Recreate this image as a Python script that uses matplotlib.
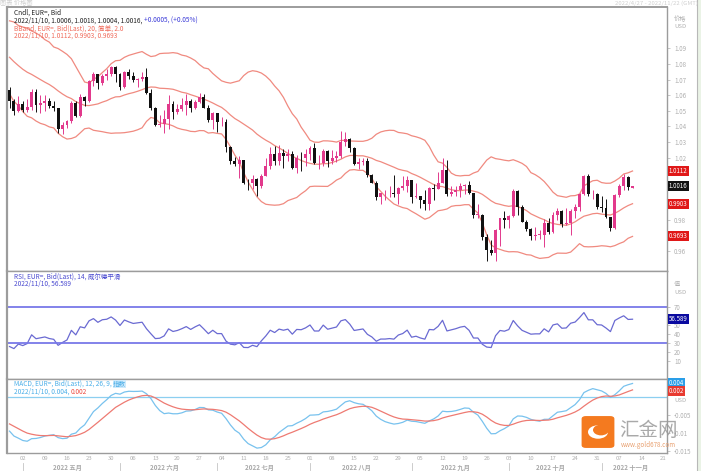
import numpy as np
import pandas as pd
import matplotlib
matplotlib.use('Agg')
import matplotlib.pyplot as plt
import matplotlib.transforms as mtrans
from matplotlib.patches import Rectangle, FancyBboxPatch, Circle

plt.rcParams['font.family'] = ['Noto Sans CJK SC', 'DejaVu Sans']

# EUR= daily closes, Feb-Apr 2022 (warm-up for the indicators)
close_feb = [1.1270, 1.1305, 1.1440, 1.1455, 1.1440, 1.1415, 1.1420, 1.1425, 1.1350, 1.1305,
             1.1360, 1.1370, 1.1360, 1.1320, 1.1310, 1.1330, 1.1310, 1.1190, 1.1270, 1.1220]
close_mar = [1.1126, 1.1119, 1.1063, 1.0929, 1.0855, 1.0905, 1.1075, 1.0985, 1.0912, 1.0942,
             1.0955, 1.1036, 1.1094, 1.1050, 1.1015, 1.1030, 1.1005, 1.0995, 1.0983, 1.0985,
             1.1087, 1.1157, 1.1067]
close_apr = [1.1046, 1.0972, 1.0905, 1.0900, 1.0880, 1.0876, 1.0890, 1.0830, 1.0890, 1.0825,
             1.0810, 1.0780, 1.0790, 1.0855, 1.0835, 1.0795, 1.0715, 1.0635, 1.0560, 1.0500,
             1.0545]
high_apr = [1.0650, 1.0575, 1.0595]   # Apr 27-29 (first visible bars)
low_apr = [1.0515, 1.0470, 1.0495]

close_may = [1.0505, 1.0525, 1.0620, 1.0540, 1.0550, 1.0560, 1.0530, 1.0515, 1.0380, 1.0410,
             1.0435, 1.0550, 1.0465, 1.0585, 1.0565, 1.0690, 1.0735, 1.0675, 1.0725, 1.0735,
             1.0780, 1.0735]
high_may = [1.0565, 1.0575, 1.0640, 1.0640, 1.0600, 1.0600, 1.0580, 1.0565, 1.0515, 1.0425,
            1.0440, 1.0565, 1.0565, 1.0605, 1.0595, 1.0700, 1.0750, 1.0735, 1.0735, 1.0765,
            1.0785, 1.0785]
low_may = [1.0490, 1.0490, 1.0505, 1.0490, 1.0485, 1.0500, 1.0520, 1.0500, 1.0355, 1.0350,
           1.0390, 1.0420, 1.0460, 1.0460, 1.0530, 1.0555, 1.0660, 1.0640, 1.0665, 1.0700,
           1.0720, 1.0685]

close_jun = [1.0650, 1.0750, 1.0720, 1.0695, 1.0705, 1.0715, 1.0615, 1.0520, 1.0410, 1.0415,
             1.0445, 1.0545, 1.0495, 1.0510, 1.0535, 1.0565, 1.0520, 1.0555, 1.0585, 1.0520,
             1.0440, 1.0485]
high_jun = [1.0740, 1.0755, 1.0765, 1.0750, 1.0710, 1.0750, 1.0775, 1.0640, 1.0525, 1.0475,
            1.0505, 1.0600, 1.0560, 1.0545, 1.0580, 1.0605, 1.0575, 1.0570, 1.0615, 1.0605,
            1.0535, 1.0490]
low_jun = [1.0630, 1.0645, 1.0705, 1.0685, 1.0655, 1.0690, 1.0610, 1.0505, 1.0400, 1.0395,
           1.0360, 1.0380, 1.0445, 1.0480, 1.0500, 1.0470, 1.0495, 1.0510, 1.0550, 1.0515,
           1.0430, 1.0385]

close_jul = [1.0425, 1.0425, 1.0265, 1.0180, 1.0160, 1.0185, 1.0040, 1.0035, 1.0060, 1.0020,
             1.0085, 1.0145, 1.0225, 1.0180, 1.0230, 1.0210, 1.0225, 1.0135, 1.0200, 1.0195,
             1.0220]
high_jul = [1.0485, 1.0460, 1.0445, 1.0275, 1.0205, 1.0210, 1.0165, 1.0060, 1.0090, 1.0070,
            1.0095, 1.0200, 1.0270, 1.0275, 1.0280, 1.0255, 1.0255, 1.0245, 1.0215, 1.0235,
            1.0255]
low_jul = [1.0365, 1.0405, 1.0235, 1.0160, 1.0145, 1.0070, 1.0030, 0.9995, 0.9998, 0.9952,
           1.0005, 1.0080, 1.0125, 1.0155, 1.0155, 1.0130, 1.0180, 1.0125, 1.0100, 1.0115,
           1.0145]

close_aug = [1.0260, 1.0165, 1.0165, 1.0245, 1.0180, 1.0195, 1.0210, 1.0300, 1.0320, 1.0260,
             1.0160, 1.0170, 1.0180, 1.0090, 1.0040, 0.9945, 0.9970, 0.9970, 0.9975, 0.9965,
             1.0005, 1.0020, 1.0055]
high_aug = [1.0275, 1.0295, 1.0215, 1.0255, 1.0250, 1.0250, 1.0245, 1.0370, 1.0365, 1.0325,
            1.0270, 1.0200, 1.0200, 1.0200, 1.0095, 1.0050, 0.9975, 0.9990, 1.0015, 1.0090,
            1.0010, 1.0080, 1.0080]
low_aug = [1.0185, 1.0160, 1.0125, 1.0145, 1.0140, 1.0160, 1.0170, 1.0200, 1.0275, 1.0235,
           1.0150, 1.0125, 1.0150, 1.0075, 1.0035, 0.9925, 0.9900, 0.9930, 0.9945, 0.9950,
           0.9900, 0.9990, 0.9980]

close_sep = [0.9945, 0.9955, 0.9925, 0.9905, 1.0005, 1.0000, 1.0040, 1.0120, 0.9965, 0.9980,
             0.9995, 1.0015, 1.0025, 0.9970, 0.9835, 0.9835, 0.9690, 0.9605, 0.9590, 0.9735,
             0.9815, 0.9800]
high_sep = [1.0055, 1.0035, 0.9945, 0.9990, 1.0010, 1.0030, 1.0110, 1.0198, 1.0185, 1.0020,
            1.0015, 1.0040, 1.0030, 1.0050, 0.9975, 0.9905, 0.9840, 0.9710, 0.9670, 0.9740,
            0.9815, 0.9855]
low_sep = [0.9910, 0.9940, 0.9875, 0.9865, 0.9865, 0.9930, 1.0000, 1.0035, 0.9955, 0.9955,
           0.9955, 0.9945, 0.9965, 0.9965, 0.9810, 0.9810, 0.9670, 0.9535, 0.9575, 0.9535,
           0.9635, 0.9750]

close_oct = [0.9825, 0.9985, 0.9885, 0.9790, 0.9745, 0.9700, 0.9705, 0.9705, 0.9780, 0.9720,
             0.9835, 0.9855, 0.9775, 0.9780, 0.9860, 0.9880, 0.9965, 1.0080, 0.9965, 0.9965,
             0.9880]
high_oct = [0.9830, 0.9998, 0.9995, 0.9895, 0.9800, 0.9750, 0.9755, 0.9735, 0.9805, 0.9810,
            0.9850, 0.9875, 0.9865, 0.9875, 0.9870, 0.9905, 0.9975, 1.0090, 1.0095, 0.9990,
            0.9975]
low_oct = [0.9750, 0.9820, 0.9835, 0.9785, 0.9730, 0.9670, 0.9670, 0.9680, 0.9630, 0.9710,
           0.9715, 0.9800, 0.9755, 0.9765, 0.9705, 0.9810, 0.9855, 0.9960, 0.9955, 0.9935,
           0.9870]

close_nov = [0.9875, 0.9820, 0.9750, 0.9960, 1.0020, 1.0075, 1.0011, 1.0016]
high_nov = [0.9955, 0.9935, 0.9820, 0.9965, 1.0030, 1.0095, 1.0080, 1.0018]
low_nov = [0.9850, 0.9810, 0.9730, 0.9745, 0.9950, 0.9990, 0.9990, 1.0004]
last_open = 1.0006

month_names = ['2022 五月', '2022 六月', '2022 七月', '2022 八月', '2022 九月', '2022 十月', '2022 十一月']

closes = pd.Series(close_feb + close_mar + close_apr + close_may + close_jun + close_jul +
                   close_aug + close_sep + close_oct + close_nov,
                   index=pd.bdate_range('2022-02-01', '2022-11-10'))

# indicators
mid = closes.rolling(20).mean()
sd = closes.rolling(20).std(ddof=0)
upper = mid + 2 * sd
lower = mid - 2 * sd
diff = closes.diff()
gain = diff.clip(lower=0).ewm(alpha=1 / 14, adjust=False).mean()
loss = (-diff.clip(upper=0)).ewm(alpha=1 / 14, adjust=False).mean()
rsi = 100 - 100 / (1 + gain / loss)
macd = closes.ewm(span=12, adjust=False).mean() - closes.ewm(span=26, adjust=False).mean()
signal = macd.ewm(span=9, adjust=False).mean()

start = pd.Timestamp('2022-04-27')
vis = closes.index >= start
dates = closes.index[vis]
c = closes[vis].values
o = closes.shift(1)[vis].values
o[-1] = last_open
h = np.array(high_apr + high_may + high_jun + high_jul + high_aug + high_sep + high_oct + high_nov)
l = np.array(low_apr + low_may + low_jun + low_jul + low_aug + low_sep + low_oct + low_nov)
h = np.maximum(h, np.maximum(o, c))
l = np.minimum(l, np.minimum(o, c))
n = len(c)
x = np.arange(n)

W, H = 701, 471
fig = plt.figure(figsize=(W / 100, H / 100), dpi=100)


def rect(x0, y0, x1, y1):
    return [x0 / W, 1 - y1 / H, (x1 - x0) / W, (y1 - y0) / H]


def ftext(px, py, s, **kw):
    return fig.text(px / W, 1 - py / H, s, va='center', **kw)


def chain(prev, s, **kw):
    # next piece of text on the same line, right after the previous one
    return plt.annotate(s, xy=(1, 0), xycoords=prev, va='bottom', ha='left',
                        annotation_clip=False, **kw)


ax_p = fig.add_axes(rect(7, 7, 667, 271))
ax_r = fig.add_axes(rect(7, 271, 667, 379))
ax_m = fig.add_axes(rect(7, 379, 667, 453))

up_col, dn_col = '#e2398c', '#111111'
x_lo, x_hi = -0.57, 148.8

# candles
cols = np.where(c >= o, up_col, dn_col)
ax_p.vlines(x, l, h, colors=cols, lw=0.7, zorder=3)
body = np.maximum(np.abs(c - o), 0.0003)
ax_p.bar(x, body, bottom=np.minimum(o, c), width=0.66, color=cols, zorder=4)
bb_col = '#f08a80'
ax_p.plot(x, upper[vis].values, color=bb_col, lw=0.9)
ax_p.plot(x, mid[vis].values, color=bb_col, lw=0.9)
ax_p.plot(x, lower[vis].values, color=bb_col, lw=0.9)
ax_p.set_ylim(0.9473, 1.1165)
ax_p.set_yticks([0.96, 0.98, 1.02, 1.03, 1.04, 1.05, 1.06, 1.07, 1.08, 1.09])

# RSI
rsi_col = '#6a6ad2'
ax_r.plot(x, rsi[vis].values, color=rsi_col, lw=0.9)
ax_r.axhline(70, color='#7878e8', lw=1.3)
ax_r.axhline(30, color='#7878e8', lw=1.3)
ax_r.set_ylim(-10, 110)
ax_r.set_yticks([10, 20, 30, 40, 50, 70])

# MACD
macd_col, sig_col = '#78c2ee', '#ee7a72'
ax_m.axhline(0, color='#8ccff0', lw=0.9)
ax_m.plot(x, macd[vis].values, color=macd_col, lw=0.9)
ax_m.plot(x, signal[vis].values, color=sig_col, lw=0.9)
ax_m.set_ylim(-0.0157, 0.0052)
ax_m.set_yticks([-0.015, -0.01, -0.005])
ax_m.set_yticklabels(['-0.015', '-0.01', '-0.005'])

for ax in (ax_p, ax_r, ax_m):
    ax.set_xlim(x_lo, x_hi)
    ax.yaxis.tick_right()
    ax.tick_params(axis='y', labelsize=4.5, colors='#b0b0b0', length=2, pad=3, width=0.5)
    for sp in ax.spines.values():
        sp.set_color('#9c9c9c')
        sp.set_linewidth(1.0)
    ax.spines['left'].set_linewidth(1.6)
ax_p.spines['top'].set_linewidth(1.4)
ax_p.set_xticks([])
ax_r.set_xticks([])

# x axis: Mondays and month separators
mondays = [i for i, d in enumerate(dates) if d.weekday() == 0]
extra = pd.bdate_range(dates[-1] + pd.Timedelta(days=1), periods=8)
xt = [x[i] for i in mondays] + [n + k for k, d in enumerate(extra) if d.weekday() == 0]
xl = [dates[i].strftime('%d') for i in mondays] + [d.strftime('%d') for d in extra if d.weekday() == 0]
ax_m.set_xticks(xt)
ax_m.set_xticklabels(xl)
ax_m.tick_params(axis='x', labelsize=4.3, colors='#b0b0b0', length=0, pad=2)

blend = mtrans.blended_transform_factory(ax_m.transData, ax_m.transAxes)
firsts = [i for i in range(n) if i == 0 or dates[i].month != dates[i - 1].month][1:]
bounds = firsts + [n + 7]
for k, i in enumerate(firsts):
    ax_m.plot([i, i], [-0.13, -0.23], color='#c4c4c4', lw=0.6, transform=blend, clip_on=False)
    ax_m.text((i + bounds[k + 1]) / 2 - 1, -0.19, month_names[k], transform=blend,
              fontsize=4.5, color='#a8a8a8', ha='center', va='center', fontweight='bold')

# headers
fs = 4.7
dark, blue, red = '#222222', '#3a3ad8', '#f06a5a'
rsi_txt, macd_txt = '#4a4ad0', '#4aaee8'
ftext(14, 13, 'Cndl, EUR=, Bid', fontsize=fs, color=dark)
t = ftext(14, 21, '2022/11/10, 1.0006, 1.0018, 1.0004, 1.0016, ', fontsize=fs, color=dark)
chain(t, '+0.0005, (+0.05%)', fontsize=fs, color=blue)
ftext(14, 29, 'BBand, EUR=, Bid(Last), 20, 简单, 2.0', fontsize=fs, color=red)
ftext(14, 36, '2022/11/10, 1.0112, 0.9903, 0.9693', fontsize=fs, color=red)
ftext(14, 277, 'RSI, EUR=, Bid(Last), 14, 威尔德平滑', fontsize=fs, color=rsi_txt)
ftext(14, 284, '2022/11/10, 56.589', fontsize=fs, color=rsi_txt)
t = ftext(14, 384, 'MACD, EUR=, Bid(Last), 12, 26, 9, ', fontsize=fs, color=macd_txt)
chain(t, '指数', fontsize=fs, color=macd_txt,
      bbox=dict(boxstyle='square,pad=0.05', fc='#cfeafb', ec='none'))
t = ftext(14, 392, '2022/11/10, 0.004, ', fontsize=fs, color=macd_txt)
chain(t, '0.002', fontsize=fs, color='#ee4a40')

ftext(0, 3, '图表 价格图', fontsize=4.5, color='#d0d0d0')
ftext(615, 3, '2022/4/27 - 2022/11/22 (GMT)', fontsize=4.3, color='#d0d0d0')
ftext(674, 19, '价格', fontsize=4.5, color='#b0b0b0')
ftext(674, 27, 'USD', fontsize=4.3, color='#b0b0b0')
ftext(674, 284, '值', fontsize=4.5, color='#b0b0b0')
ftext(674, 292, 'USD', fontsize=4.3, color='#b0b0b0')
ftext(674, 401, 'USD', fontsize=4.3, color='#b0b0b0')


# value boxes on the right axis
def value_box(ax, val, s, fc):
    tr = mtrans.blended_transform_factory(ax.transAxes, ax.transData)
    ax.text(1.003, val, s, transform=tr, fontsize=4.4, color='white', va='center', ha='left',
            clip_on=False, zorder=10,
            bbox=dict(boxstyle='square,pad=0.15', fc=fc, ec='none'))


value_box(ax_p, upper.iloc[-1], '1.0112', '#e01818')
value_box(ax_p, c[-1], '1.0016', '#111111')
value_box(ax_p, mid.iloc[-1], '0.9903', '#e01818')
value_box(ax_p, lower.iloc[-1], '0.9693', '#e01818')
value_box(ax_r, rsi.iloc[-1], '56.589', '#0a0aa0')
value_box(ax_m, macd.iloc[-1] + 0.0002, '0.004', '#2a9ee8')
value_box(ax_m, signal.iloc[-1] - 0.0002, '0.002', '#e83a30')

# right edge of the page
fig.patches.append(Rectangle((697 / W, 0), 4 / W, 1, transform=fig.transFigure,
                             fc='#eaf3e6', ec='none'))
fig.lines.append(plt.Line2D([697 / W, 697 / W], [0, 1], transform=fig.transFigure,
                            color='#b8b8b8', lw=0.8))

# watermark logo
fig.patches.append(FancyBboxPatch((583 / W, 1 - 447 / H), 30 / W, 30 / H,
                                  boxstyle='round,pad=0.002,rounding_size=0.006',
                                  transform=fig.transFigure, fc='#f47a1f', ec='none', zorder=20))
fig.patches.append(Circle((598 / W, 1 - 432 / H), 10 / W, transform=fig.transFigure,
                          fc='white', ec='none', zorder=21))
fig.patches.append(Circle((601 / W, 1 - 430 / H), 8 / W, transform=fig.transFigure,
                          fc='#f47a1f', ec='none', zorder=22))
ftext(619, 430, '汇金网', fontsize=14, color='#9a9a9a', alpha=0.85, zorder=23)
ftext(621, 445, 'www.gold678.com', fontsize=4.5, color='#e8a070', zorder=23)

fig.savefig('out.png', dpi=100)
